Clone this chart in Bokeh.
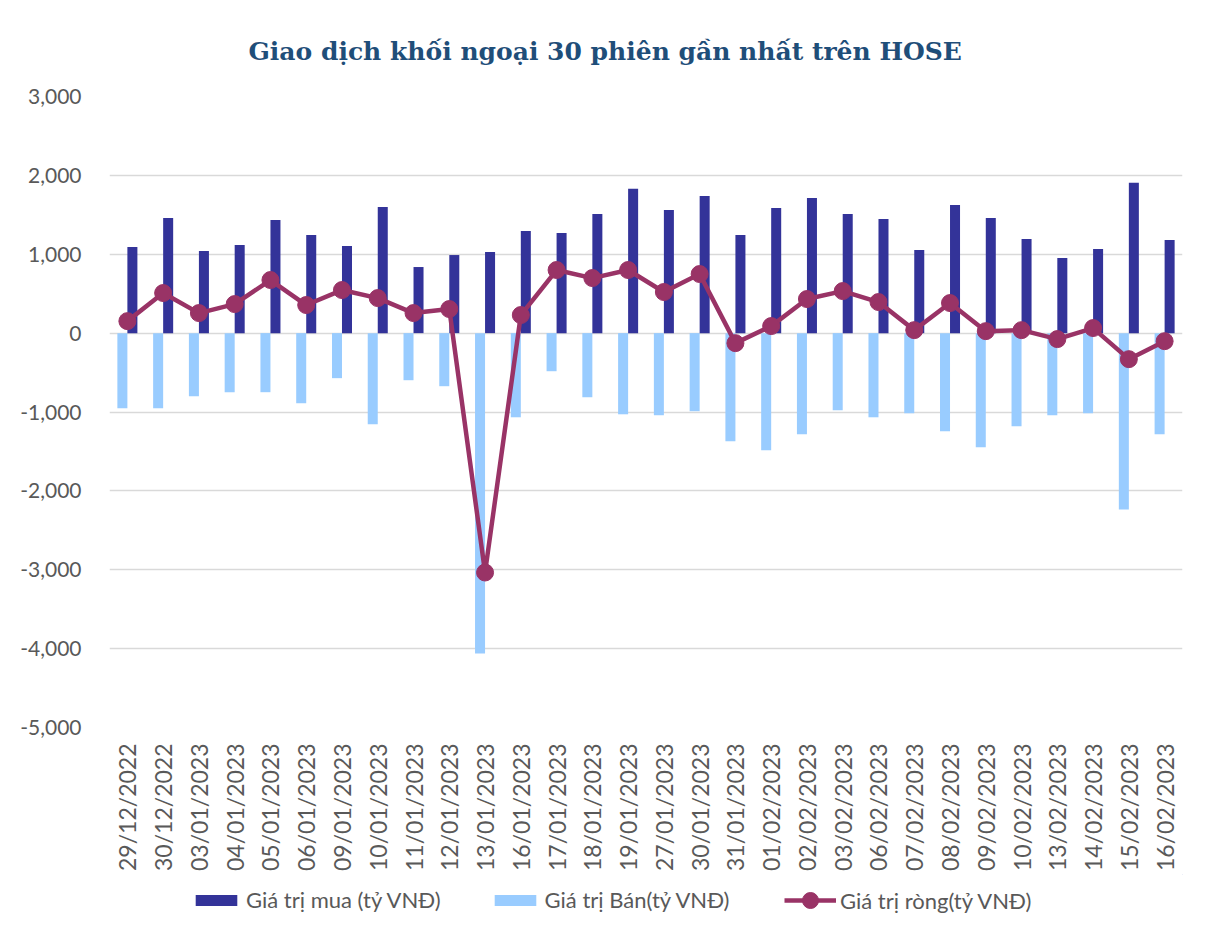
from bokeh.plotting import figure
from bokeh.layouts import column
from bokeh.models import Range1d, FactorRange, ColumnDataSource, Legend, LegendItem, NumeralTickFormatter, Title
from bokeh.transform import dodge
from bokeh.embed import file_html
from bokeh.resources import INLINE
import math

dates = ["29/12/2022", "30/12/2022", "03/01/2023", "04/01/2023", "05/01/2023", "06/01/2023",
         "09/01/2023", "10/01/2023", "11/01/2023", "12/01/2023", "13/01/2023", "16/01/2023",
         "17/01/2023", "18/01/2023", "19/01/2023", "27/01/2023", "30/01/2023", "31/01/2023",
         "01/02/2023", "02/02/2023", "03/02/2023", "06/02/2023", "07/02/2023", "08/02/2023",
         "09/02/2023", "10/02/2023", "13/02/2023", "14/02/2023", "15/02/2023", "16/02/2023"]

buy = [1092, 1460, 1041, 1117, 1435, 1244, 1105, 1600, 838, 990,
       1029, 1295, 1270, 1511, 1829, 1562, 1740, 1244, 1587, 1714,
       1511, 1448, 1054, 1625, 1460, 1194, 952, 1067, 1905, 1181]

sell = [-952, -952, -800, -749, -749, -889, -571, -1156, -597, -673,
        -4063, -1067, -483, -813, -1029, -1041, -990, -1371, -1486, -1283,
        -978, -1067, -1016, -1244, -1448, -1181, -1041, -1016, -2235, -1283]

net = [152, 508, 254, 368, 673, 356, 546, 444, 254, 305,
       -3035, 229, 800, 698, 800, 521, 749, -127, 89, 432,
       533, 394, 38, 381, 25, 38, -76, 64, -330, -102]

title_text = "Giao dịch khối ngoại 30 phiên gần nhất trên HOSE"
legend_labels = ["Giá trị mua (tỷ VNĐ)", "Giá trị Bán(tỷ VNĐ)", "Giá trị ròng(tỷ VNĐ)"]

BLUE_DARK = "#333399"
BLUE_LIGHT = "#99CCFF"
NET_C = "#993366"

src = ColumnDataSource(dict(date=dates, buy=buy, sell=sell, net=net))

p = figure(width=1200, height=874, x_range=FactorRange(*dates, range_padding=0),
           y_range=Range1d(-5000, 3000), output_backend="svg", toolbar_location=None,
           min_border_left=109, min_border_right=18, min_border_top=96, min_border_bottom=146)

p.title = Title(text=title_text, align="left", offset=139, text_font="DejaVu Serif",
                text_font_size="25px", text_font_style="bold", text_color="#1F4E79", standoff=62)

p.vbar(x=dodge("date", -0.14, range=p.x_range), top="sell", bottom=0, width=0.28,
       source=src, fill_color=BLUE_LIGHT, line_color=None)
p.vbar(x=dodge("date", 0.14, range=p.x_range), top="buy", bottom=0, width=0.28,
       source=src, fill_color=BLUE_DARK, line_color=None)
p.line(x="date", y="net", source=src, line_color=NET_C, line_width=4.5)
p.scatter(x="date", y="net", source=src, size=17, fill_color=NET_C, line_color=NET_C)

p.outline_line_color = None
p.background_fill_color = "white"
p.border_fill_color = "white"

p.xgrid.grid_line_color = None
p.ygrid.grid_line_color = "#D9D9D9"
p.ygrid.grid_line_width = 1.5
p.yaxis.ticker = [-5000, -4000, -3000, -2000, -1000, 0, 1000, 2000, 3000]
p.yaxis.formatter = NumeralTickFormatter(format="0,0")

for ax in (p.xaxis[0], p.yaxis[0]):
    ax.axis_line_color = None
    ax.major_tick_line_color = None
    ax.minor_tick_line_color = None
    ax.major_label_text_font = "Lato"
    ax.major_label_text_color = "#595959"

p.yaxis.major_label_text_font_size = "21px"
p.xaxis.major_label_text_font_size = "23px"
p.yaxis.major_label_standoff = 22
p.xaxis.major_label_orientation = math.pi / 2
p.xaxis.major_label_standoff = 10
p.xaxis.group_text_font_size = "0px"

# legend strip (its sample glyphs sit outside the visible range)
lg = figure(width=1200, height=56, x_range=Range1d(0, 1), y_range=Range1d(0, 1),
            output_backend="svg", toolbar_location=None,
            min_border_left=0, min_border_right=0, min_border_top=0, min_border_bottom=0)
lg.axis.visible = False
lg.grid.visible = False
lg.outline_line_color = None
lg.border_fill_color = "white"

e_buy = lg.vbar(x=[5], top=[5], bottom=[4], width=0.1, fill_color=BLUE_DARK, line_color=None)
e_sell = lg.vbar(x=[5], top=[5], bottom=[4], width=0.1, fill_color=BLUE_LIGHT, line_color=None)
e_line = lg.line(x=[5, 6], y=[5, 5], line_color=NET_C, line_width=4.5)
e_pts = lg.scatter(x=[5], y=[5], size=15, fill_color=NET_C, line_color=NET_C)

common = dict(orientation="horizontal", glyph_width=52, label_text_font="Lato",
              label_text_font_size="22px", label_text_color="#595959",
              background_fill_alpha=0, border_line_color=None, label_standoff=4,
              padding=0, margin=0)

legend_a = Legend(items=[LegendItem(label=legend_labels[0], renderers=[e_buy]),
                         LegendItem(label=legend_labels[1], renderers=[e_sell])],
                  location=(81, 17), spacing=48, glyph_height=14, **common)
legend_b = Legend(items=[LegendItem(label=legend_labels[2], renderers=[e_line, e_pts])],
                  location=(675, 10), glyph_height=40, **common)
lg.add_layout(legend_a, "center")
lg.add_layout(legend_b, "center")

layout = column(p, lg, spacing=0)
open("out.html", "w").write(file_html(layout, INLINE))
